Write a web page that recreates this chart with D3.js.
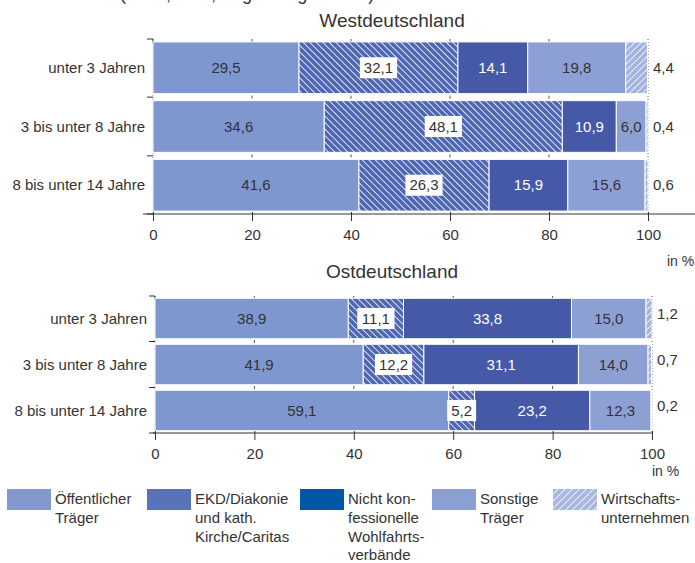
<!DOCTYPE html>
<html>
<head>
<meta charset="utf-8">
<script src="https://cdn.jsdelivr.net/npm/d3@7"></script>
<style>
  body { margin: 0; background: #fff; }
  svg text { font-family: "Liberation Sans", Arial, sans-serif; fill: #333; }
</style>
</head>
<body>
<div id="chart"></div>
<script>
var categories = ["unter 3 Jahren", "3 bis unter 8 Jahre", "8 bis unter 14 Jahre"];
var keys = ["oeff", "kirche", "nichtkonf", "sonst", "wirt"];
var legendLabels = [
  ["Öffentlicher", "Träger"],
  ["EKD/Diakonie", "und kath.", "Kirche/Caritas"],
  ["Nicht kon-", "fessionelle", "Wohlfahrts-", "verbände"],
  ["Sonstige", "Träger"],
  ["Wirtschafts-", "unternehmen"]
];
var xTicks = [0, 20, 40, 60, 80, 100];

// Westdeutschland, values in %
var westOeff      = [29.5, 34.6, 41.6];
var westKirche    = [32.1, 48.1, 26.3];
var westNichtKonf = [14.1, 10.9, 15.9];
var westSonst     = [19.8, 6.0, 15.6];
var westWirt      = [4.4, 0.4, 0.6];

// Ostdeutschland, values in %
var ostOeff      = [38.9, 41.9, 59.1];
var ostKirche    = [11.1, 12.2, 5.2];
var ostNichtKonf = [33.8, 31.1, 23.2];
var ostSonst     = [15.0, 14.0, 12.3];
var ostWirt      = [1.2, 0.7, 0.2];

function rows(a, b, c, d, e) {
  return categories.map(function (cat, i) {
    return {cat: cat, oeff: a[i], kirche: b[i], nichtkonf: c[i], sonst: d[i], wirt: e[i]};
  });
}
var westData = rows(westOeff, westKirche, westNichtKonf, westSonst, westWirt);
var ostData = rows(ostOeff, ostKirche, ostNichtKonf, ostSonst, ostWirt);

var fills = {
  oeff: "#7f97cf",
  kirche: "url(#hatchDark)",
  nichtkonf: "#4659a6",
  sonst: "#8da0d3",
  wirt: "url(#hatchLight)"
};
var legendFills = ["#8398cd", "#5a72b8", "#0057a6", "#8c9fd2", "url(#hatchLegend)"];
var labelColor = {oeff: "#333", kirche: "#333", nichtkonf: "#fff", sonst: "#333"};

var svg = d3.select("#chart").append("svg")
  .attr("width", 695).attr("height", 563);

var defs = svg.append("defs");
function hatch(id, base, dir, w) {
  var p = defs.append("pattern").attr("id", id)
    .attr("patternUnits", "userSpaceOnUse")
    .attr("width", w).attr("height", w)
    .attr("patternTransform", "rotate(" + dir + ")");
  p.append("rect").attr("width", w).attr("height", w).attr("fill", base);
  p.append("line").attr("x1", 0).attr("y1", 0).attr("x2", 0).attr("y2", w)
    .attr("stroke", "#fff").attr("stroke-width", 1.6);
}
hatch("hatchDark", "#4f67b3", -45, 4.6);
hatch("hatchLight", "#a3b2de", 45, 4.6);
hatch("hatchLegend", "#a9b7e0", 45, 5);

// cut-off subtitle at the very top
svg.append("text").attr("x", 120).attr("y", 0)
  .style("font-size", "18px")
  .text("(2014, in %, Angaben gerundet)");

var stack = d3.stack().keys(keys);

function drawPanel(data, opt) {
  var x = d3.scaleLinear().domain([0, 100]).range([opt.x0, opt.x1]);
  var y = d3.scaleBand().domain(categories)
    .range([opt.top, opt.bottom]).paddingInner(0.12).paddingOuter(0.05);
  var g = svg.append("g");

  g.append("text").attr("x", 392).attr("y", opt.titleY)
    .attr("text-anchor", "middle").style("font-size", "19px")
    .text(opt.title);

  // dotted helper lines
  g.append("line").attr("x1", x(100)).attr("x2", x(100))
    .attr("y1", opt.top).attr("y2", opt.bottom)
    .attr("stroke", "#555").attr("stroke-dasharray", "1,2");
  g.append("line").attr("x1", x(0)).attr("x2", x(0))
    .attr("y1", opt.top).attr("y2", opt.bottom)
    .attr("stroke", "#999").attr("stroke-dasharray", "1,1");
  [20, 40, 60, 80].forEach(function (t) {
    g.append("line").attr("x1", x(t)).attr("x2", x(t))
      .attr("y1", opt.top).attr("y2", opt.top + 3)
      .attr("stroke", "#555");
    categories.slice(1).forEach(function (c) {
      var yy = y(c) - (y.step() - y.bandwidth()) / 2;
      g.append("line").attr("x1", x(t)).attr("x2", x(t))
        .attr("y1", yy - 1.5).attr("y2", yy + 1.5).attr("stroke", "#555");
    });
  });

  // left ticks at band borders
  var borders = [opt.top].concat(categories.slice(1).map(function (c) {
    return y(c) - (y.step() - y.bandwidth()) / 2;
  })).concat([opt.bottom]);
  borders.forEach(function (b) {
    g.append("line").attr("x1", x(0) - 6).attr("x2", x(0))
      .attr("y1", b).attr("y2", b).attr("stroke", "#333");
  });
  g.append("line").attr("x1", x(0)).attr("x2", x(0))
    .attr("y1", opt.top).attr("y2", opt.top + 4).attr("stroke", "#333");

  var series = stack(data);
  var layer = g.selectAll(".layer").data(series).enter().append("g");
  layer.selectAll("rect").data(function (s) { return s.map(function (d) { return {k: s.key, d: d}; }); })
    .enter().append("rect")
    .attr("x", function (d) { return x(d.d[0]); })
    .attr("y", function (d) { return y(d.d.data.cat); })
    .attr("width", function (d) { return x(d.d[1]) - x(d.d[0]); })
    .attr("height", y.bandwidth())
    .attr("fill", function (d) { return fills[d.k]; })
    .attr("stroke", "#fff").attr("stroke-width", 1);

  // segment labels
  series.forEach(function (s) {
    s.forEach(function (d) {
      var v = d.data[s.key];
      var txt = d3.format(".1f")(v).replace(".", ",");
      var cy = y(d.data.cat) + y.bandwidth() / 2;
      if (s.key === "wirt") {
        g.append("text").attr("x", opt.outX).attr("y", cy + opt.outDy)
          .attr("dy", "0.35em").style("font-size", "15px").text(txt);
        return;
      }
      var cx = (x(d[0]) + x(d[1])) / 2;
      if (s.key === "kirche") {
        var bw = txt.length * 8.3 + 4;
        g.append("rect").attr("x", cx - bw / 2).attr("y", cy - 10.5)
          .attr("width", bw).attr("height", 21).attr("fill", "#fff");
      }
      g.append("text").attr("x", cx).attr("y", cy).attr("dy", "0.35em")
        .attr("text-anchor", "middle").style("font-size", "15px")
        .style("fill", labelColor[s.key]).text(txt);
    });
  });

  // category labels
  categories.forEach(function (c) {
    g.append("text").attr("x", opt.catX).attr("y", y(c) + y.bandwidth() / 2)
      .attr("dy", "0.35em").attr("text-anchor", "end")
      .style("font-size", "15px").text(c);
  });

  // bottom axis
  var ax = g.append("g").attr("transform", "translate(0," + opt.bottom + ")")
    .call(d3.axisBottom(x).tickValues(xTicks).tickSize(7).tickPadding(8));
  ax.select(".domain").remove();
  ax.selectAll("line").attr("stroke", "#333").attr("y1", -2);
  ax.selectAll("text").style("font-size", "15px").style("fill", "#333")
    .style("font-family", "Liberation Sans, Arial, sans-serif");
  g.append("line").attr("x1", opt.axisX0).attr("x2", opt.axisX1)
    .attr("y1", opt.bottom).attr("y2", opt.bottom)
    .attr("stroke", "#333").attr("stroke-width", 1);

  g.append("text").attr("x", opt.unitX).attr("y", opt.unitY)
    .style("font-size", "14px").text("in %");
}

drawPanel(westData, {
  title: "Westdeutschland", titleY: 27,
  x0: 153, x1: 648, top: 39, bottom: 214,
  catX: 145, outX: 653, outDy: 0,
  axisX0: 143, axisX1: 695, unitX: 667, unitY: 266
});
drawPanel(ostData, {
  title: "Ostdeutschland", titleY: 278,
  x0: 155, x1: 652, top: 296, bottom: 433,
  catX: 147, outX: 657, outDy: -5,
  axisX0: 153, axisX1: 653, unitX: 652, unitY: 476
});

// legend
var legX = [7, 147, 300, 432, 553];
var leg = svg.append("g");
legendLabels.forEach(function (lines, i) {
  leg.append("rect").attr("x", legX[i]).attr("y", 489)
    .attr("width", 44).attr("height", 21).attr("fill", legendFills[i]);
  var t = leg.append("text").attr("x", legX[i] + 48).attr("y", 504)
    .style("font-size", "15px");
  lines.forEach(function (l, j) {
    t.append("tspan").attr("x", legX[i] + 48).attr("dy", j === 0 ? 0 : 18.8).text(l);
  });
});
</script>
</body>
</html>
